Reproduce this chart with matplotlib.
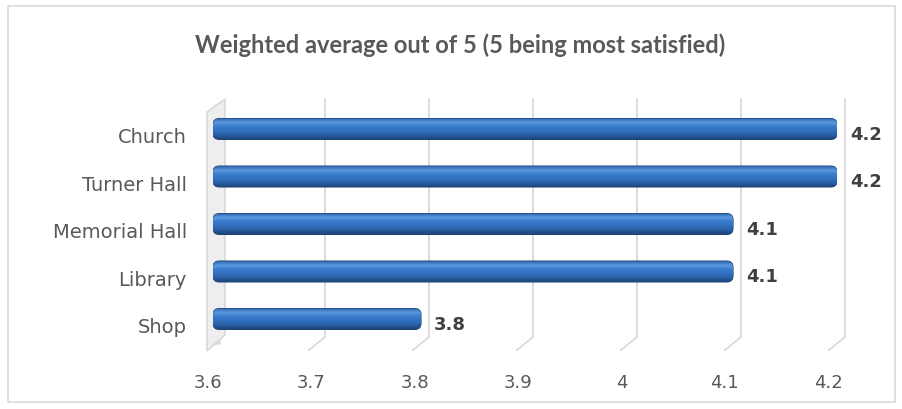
import numpy as np
import matplotlib.pyplot as plt
from matplotlib.patches import FancyBboxPatch, Polygon, Rectangle
from matplotlib.colors import LinearSegmentedColormap

categories = ['Shop', 'Library', 'Memorial Hall', 'Turner Hall', 'Church']
values = [3.8, 4.1, 4.1, 4.2, 4.2]
ticks = [3.6, 3.7, 3.8, 3.9, 4.0, 4.1, 4.2]
tick_labels = ['3.6', '3.7', '3.8', '3.9', '4', '4.1', '4.2']
title = 'Weighted average out of 5 (5 being most satisfied)'

W, H = 903, 410
plt.rcParams['font.family'] = ['DejaVu Sans']
fig = plt.figure(figsize=(W / 100, H / 100), dpi=100)

def fx(px):
    return px / W

def fy(py):
    return 1 - py / H

# plotting plane of the bars (pixels measured from top-left)
ax = fig.add_axes([fx(213), fy(343.75), fx(837) - fx(213), fy(106.25) - fy(343.75)])
ax.set_xlim(3.6, 4.2)
ax.set_ylim(-0.5, len(categories) - 0.5)
ax.axis('off')
ax.set_zorder(5)

# outer chart border
fig.patches.append(Rectangle((fx(8), fy(403)), fx(895) - fx(8), fy(7) - fy(403),
                             transform=fig.transFigure, fill=False,
                             edgecolor='#d9d9d9', lw=1.2, zorder=0))

def px(v):
    return ax.transData.transform((v, 0))[0]

top_y, back_y, front_y = 100, 338, 351
depth = 8

# side wall (thin slab with a grey shading)
x0 = px(ticks[0])
wall = Polygon([(fx(x0 - 6), fy(front_y + 1)), (fx(x0 + 12), fy(back_y - 2)),
                (fx(x0 + 12), fy(top_y)), (fx(x0 - 6), fy(top_y + 13))],
               closed=True, transform=fig.transFigure, facecolor='#eeeeee',
               edgecolor='#d4d4d4', lw=1, zorder=1)
fig.patches.append(wall)
fig.add_artist(plt.Line2D([fx(x0 + 5), fx(x0 + 5)], [fy(front_y - 8), fy(top_y + 8)],
                          transform=fig.transFigure, color='#bdbdbd', lw=4,
                          alpha=0.5, zorder=1))

# gridlines: back wall verticals and floor diagonals
for t in ticks[1:]:
    x = px(t)
    fig.add_artist(plt.Line2D([fx(x + depth), fx(x + depth), fx(x - depth)],
                              [fy(top_y), fy(back_y), fy(front_y)],
                              transform=fig.transFigure, color='#d9d9d9', lw=1.3, zorder=1))

# bars with gradient
cmap = LinearSegmentedColormap.from_list('bar', ['#1c4677', '#2a5fa6', '#3170c0',
                                                 '#3a7acb', '#5b98dc', '#2c64ad'])
grad = np.linspace(0, 1, 64).reshape(-1, 1)
h = 0.44
asp = (1 / 47.5) / (1 / 1040)
for i, v in enumerate(values):
    patch = FancyBboxPatch((3.6, i - h / 2), v - 3.6, h,
                           boxstyle='round,pad=0,rounding_size=0.006',
                           mutation_aspect=asp, facecolor='#2f6dbb',
                           edgecolor='#1d4272', lw=0.8, zorder=3)
    ax.add_patch(patch)
    im = ax.imshow(grad, extent=(3.6, v, i - h / 2, i + h / 2), aspect='auto',
                   cmap=cmap, origin='lower', zorder=3)
    im.set_clip_path(patch)
    ax.annotate(f'{v:.1f}', (v, i), xytext=(13, -5), textcoords='offset pixels',
                ha='left', va='center', fontsize=13, fontweight='bold',
                color='#404040', annotation_clip=False)
    ax.annotate(categories[i], (3.6, i), xytext=(-26, -8), textcoords='offset pixels',
                ha='right', va='center', fontsize=14, color='#595959',
                annotation_clip=False)

ax.set_xlim(3.6, 4.2)
ax.set_ylim(-0.5, len(categories) - 0.5)

# value axis labels sit at the front edge of the floor
lx0 = px(ticks[0]) - 5
lx1 = px(ticks[-1]) - 9
lab = fig.add_axes([fx(lx0), fy(383), fx(lx1) - fx(lx0), 0.001])
lab.set_xlim(ticks[0], ticks[-1])
lab.set_xticks(ticks)
lab.set_xticklabels(tick_labels, fontsize=13, color='#595959')
lab.tick_params(length=0, pad=0)
lab.set_yticks([])
for s in lab.spines.values():
    s.set_visible(False)
lab.patch.set_visible(False)
for t in lab.get_xticklabels():
    t.set_verticalalignment('center')

fig.text(fx(460), fy(53), title, ha='center', va='baseline', fontsize=17,
         fontweight='bold', color='#595959', family=['Lato', 'DejaVu Sans'])

fig.savefig('out.png', dpi=100)
